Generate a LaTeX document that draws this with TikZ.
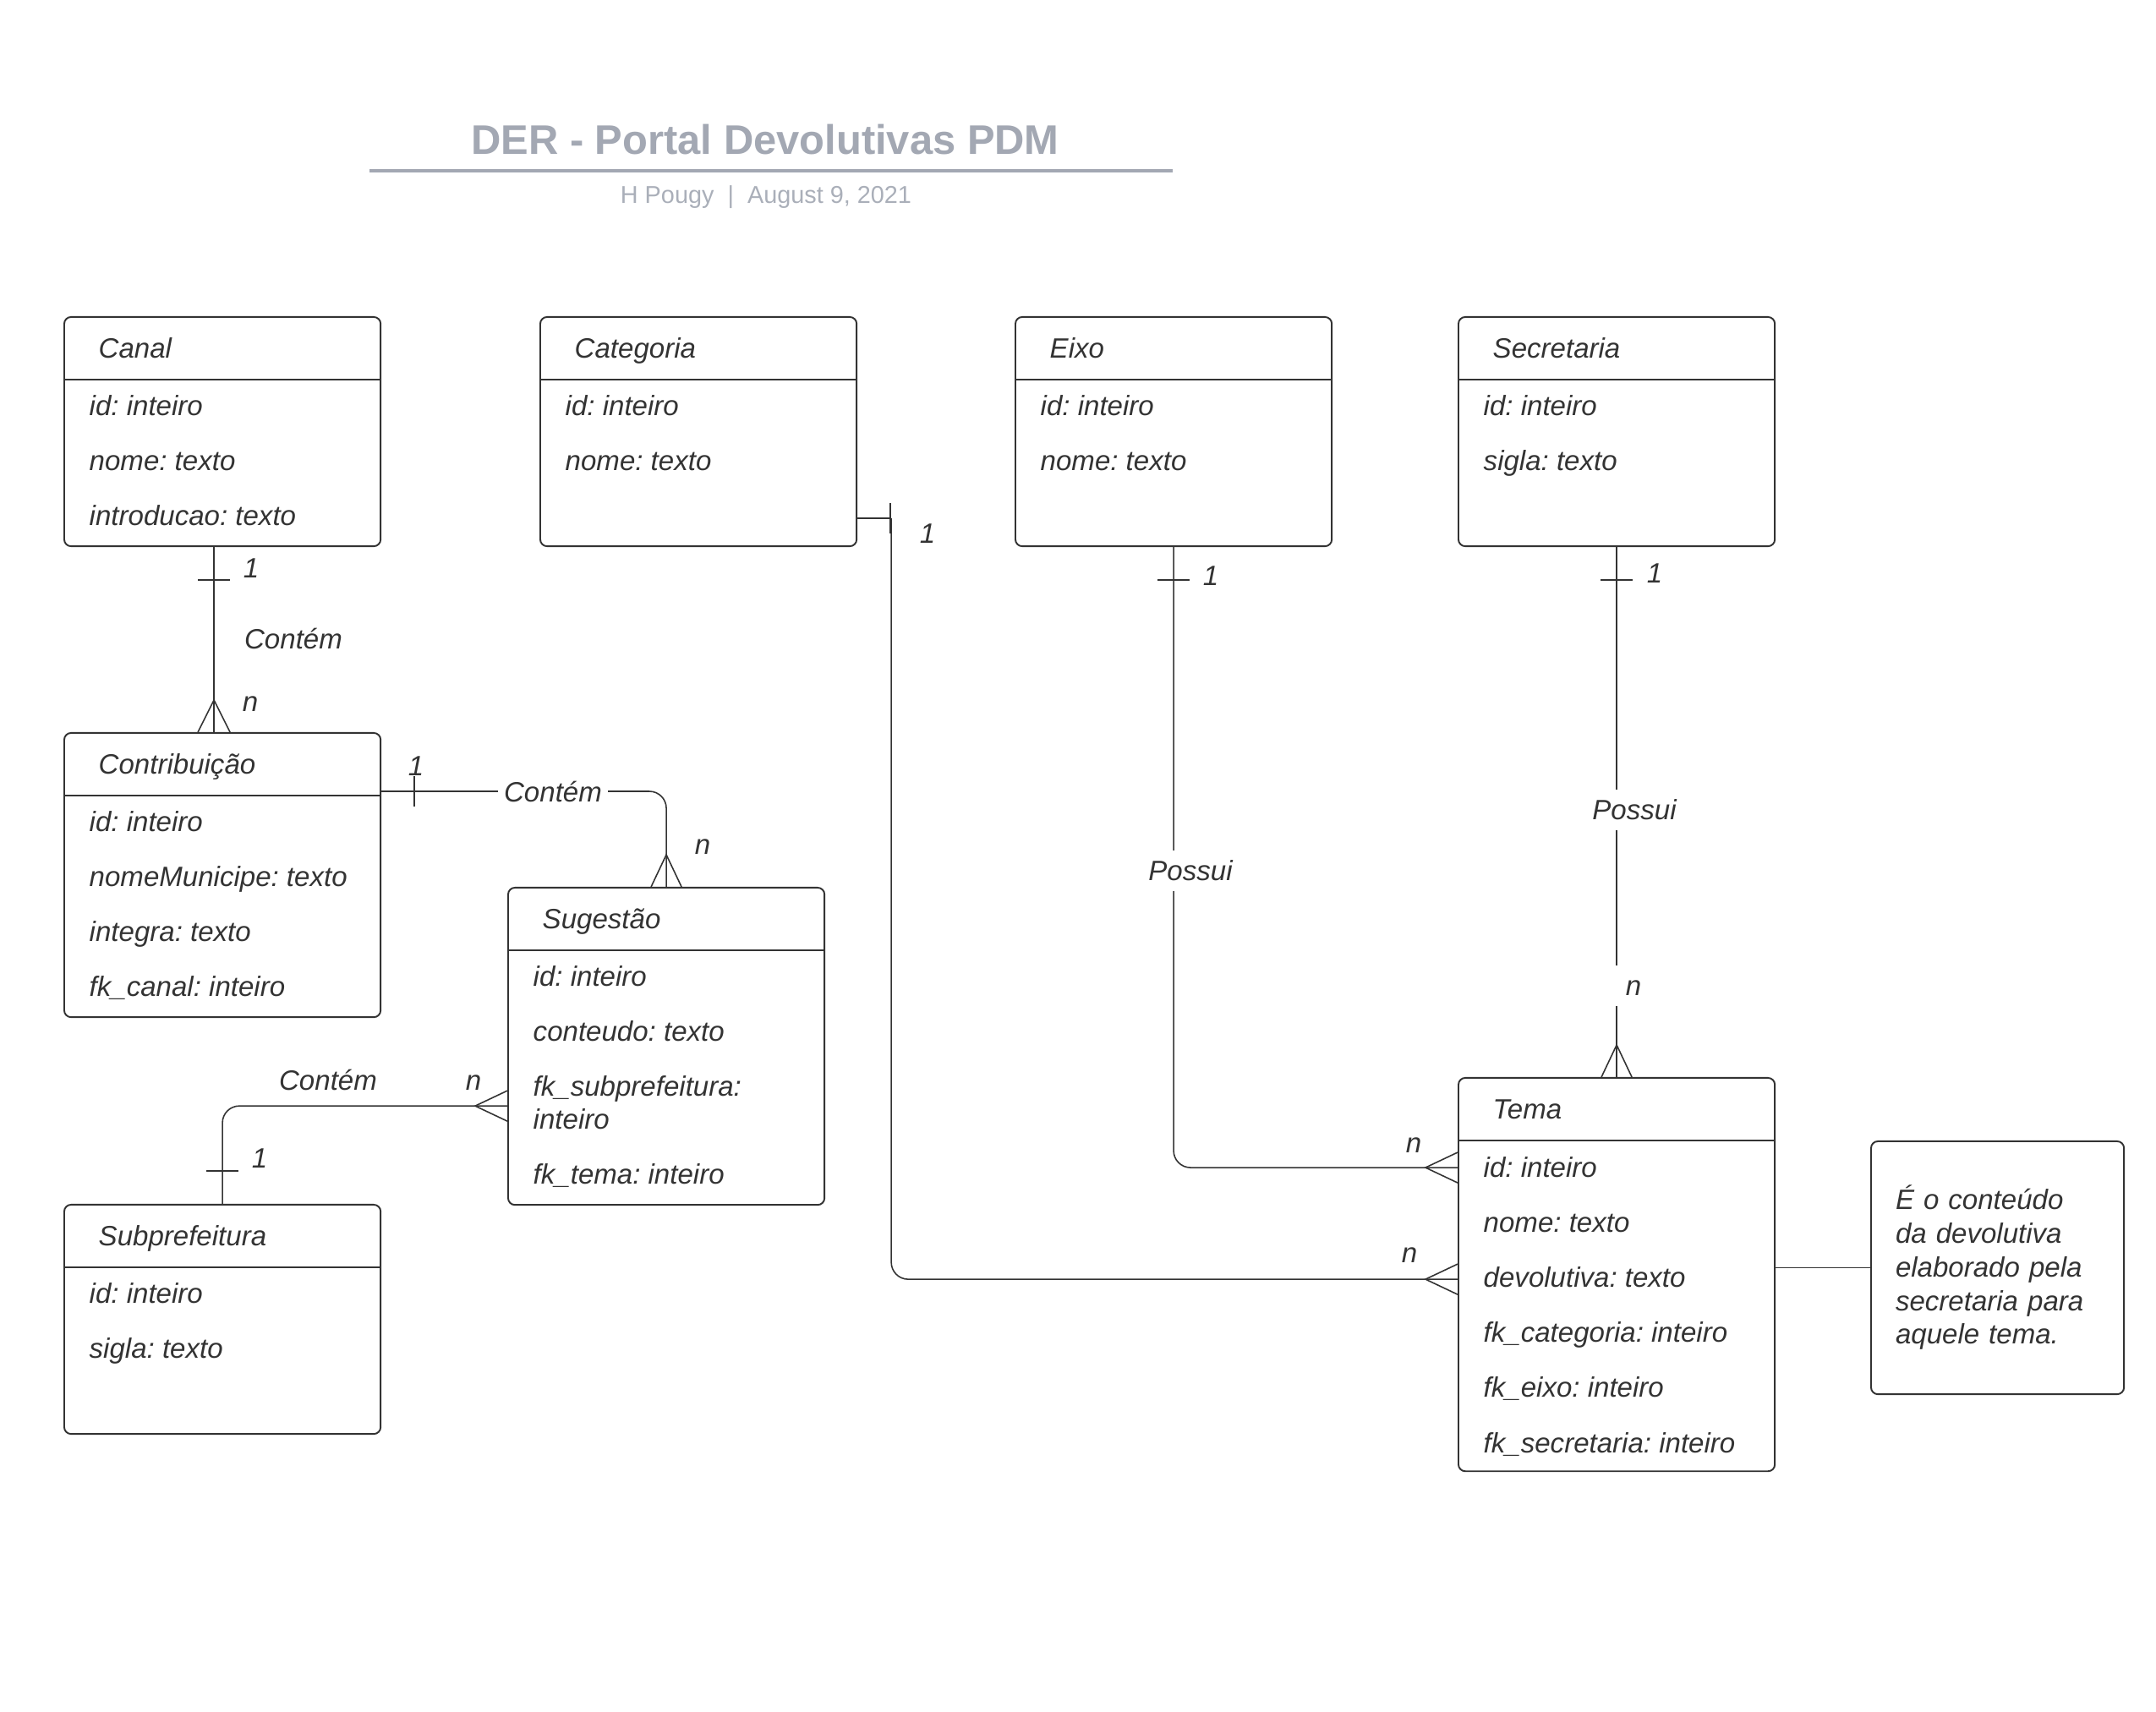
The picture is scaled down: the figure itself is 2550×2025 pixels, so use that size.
\documentclass[tikz,border=0pt]{standalone}
\usepackage{fontspec}
\setmainfont{Liberation Sans}
\usetikzlibrary{positioning,calc}
\definecolor{ink}{HTML}{333333}
\definecolor{titlegray}{HTML}{A3A8B3}
\definecolor{subgray}{HTML}{AAAFB9}
\newcommand{\erfont}{\fontsize{9.4}{11.3}\selectfont\itshape\frenchspacing}

\begin{document}
\begin{tikzpicture}[x=0.01cm, y=-0.01cm, every node/.style={text=ink},
    entity/.style={draw=ink, line width=0.55pt, rounded corners=2.3pt, minimum width=3.74cm, anchor=north west, inner sep=0pt},
    fieldtext/.style={anchor=west, inner sep=0pt, font=\erfont, text height=6.7pt, text depth=0pt},
    rel/.style={draw=ink, line width=0.45pt},
    card/.style={inner sep=0pt, font=\erfont, text height=6.7pt, text depth=0pt},
    gaplabel/.style={card, fill=white, minimum height=0.47cm, inner xsep=2pt}]
    \useasboundingbox (0,0) rectangle (2550,2025);

    % Title
    \node[font=\fontsize{13.9}{16}\selectfont\bfseries, text=titlegray] (title) at (905,165) {DER - Portal Devolutivas PDM};
    \draw[titlegray, line width=1.1pt] (437,202) -- (1387,202);
    \node[font=\fontsize{8.2}{10}\selectfont, text=subgray, text height=5.9pt, text depth=0pt, inner sep=0pt] (author) at (906,230) {H Pougy~~|~~August 9, 2021};

    % Entities
    \foreach \name/\x/\y/\h/\title in {canal/75/374/2.71/Canal, categoria/638/374/2.71/Categoria,
        eixo/1200/374/2.71/Eixo, secretaria/1724/374/2.71/Secretaria,
        contribuicao/75/866/3.36/Contribuição, sugestao/600/1049/3.75/Sugestão,
        subprefeitura/75/1424/2.71/Subprefeitura, tema/1724/1274/4.65/Tema}{
        \node[entity, minimum height=\h cm] (\name) at (\x,\y) {};
        \draw[draw=ink, line width=0.55pt] ([yshift=-0.75cm]\name.north west) -- ([yshift=-0.75cm]\name.north east);
        \node[fieldtext] (\name-title) at ([xshift=0.41cm, yshift=-0.375cm]\name.north west) {\title};
    }

    % Fields
    \foreach \dy/\txt [count=\i] in {1.06/id: inteiro, 1.71/nome: texto, 2.36/introducao: texto}
        \node[fieldtext] (canal-f\i) at ([xshift=0.30cm, yshift=-\dy cm]canal.north west) {\txt};
    \foreach \dy/\txt [count=\i] in {1.06/id: inteiro, 1.71/nome: texto}
        \node[fieldtext] (categoria-f\i) at ([xshift=0.30cm, yshift=-\dy cm]categoria.north west) {\txt};
    \foreach \dy/\txt [count=\i] in {1.06/id: inteiro, 1.71/nome: texto}
        \node[fieldtext] (eixo-f\i) at ([xshift=0.30cm, yshift=-\dy cm]eixo.north west) {\txt};
    \foreach \dy/\txt [count=\i] in {1.06/id: inteiro, 1.71/sigla: texto}
        \node[fieldtext] (secretaria-f\i) at ([xshift=0.30cm, yshift=-\dy cm]secretaria.north west) {\txt};
    \foreach \dy/\txt [count=\i] in {1.06/id: inteiro, 1.71/nomeMunicipe: texto, 2.36/integra: texto, 3.01/fk\_canal: inteiro}
        \node[fieldtext] (contribuicao-f\i) at ([xshift=0.30cm, yshift=-\dy cm]contribuicao.north west) {\txt};
    \foreach \dy/\txt [count=\i] in {1.06/id: inteiro, 1.71/conteudo: texto, 2.36/fk\_subprefeitura:, 2.75/inteiro, 3.40/fk\_tema: inteiro}
        \node[fieldtext] (sugestao-f\i) at ([xshift=0.30cm, yshift=-\dy cm]sugestao.north west) {\txt};
    \foreach \dy/\txt [count=\i] in {1.06/id: inteiro, 1.71/sigla: texto}
        \node[fieldtext] (subprefeitura-f\i) at ([xshift=0.30cm, yshift=-\dy cm]subprefeitura.north west) {\txt};
    \foreach \dy/\txt [count=\i] in {1.07/id: inteiro, 1.72/nome: texto, 2.37/devolutiva: texto,
        3.02/fk\_categoria: inteiro, 3.67/fk\_eixo: inteiro, 4.32/fk\_secretaria: inteiro}
        \node[fieldtext] (tema-f\i) at ([xshift=0.30cm, yshift=-\dy cm]tema.north west) {\txt};

    % Note on devolutiva
    \node[draw=ink, line width=0.55pt, rounded corners=2.3pt, anchor=north west, minimum width=2.99cm, minimum height=2.99cm,
        text width=2.41cm, inner xsep=0.29cm, align=left, font=\erfont] (nota) at (2212,1349)
        {É o conteúdo\\da devolutiva\\elaborado pela\\secretaria para\\aquele tema.};
    \draw[rel] (nota.west) -- (nota.west -| tema.east);

    % Canal 1 -- n Contribuicao
    \coordinate (canal-c) at ([xshift=-0.10cm]canal.south);
    \coordinate (contribuicao-c) at ([xshift=-0.10cm]contribuicao.north);
    \draw[rel] (canal-c) -- (contribuicao-c);
    \draw[rel] ($(canal-c)+(-19,39)$) -- ++(38,0);
    \draw[rel] ($(contribuicao-c)+(-19,0)$) -- ($(contribuicao-c)+(0,-38)$) -- ($(contribuicao-c)+(19,0)$);
    \node[card] (canal-one) at (297,672) {1};
    \node[card] (canal-rel) at (347,756) {Contém};
    \node[card] (contribuicao-n) at (296,830) {n};

    % Contribuicao 1 -- n Sugestao
    \coordinate (contribuicao-e) at ([yshift=-0.70cm]contribuicao.north east);
    \draw[rel, rounded corners=0.2cm] (contribuicao-e) -| (sugestao.north);
    \draw[rel] ($(contribuicao-e)+(39,-18)$) -- ++(0,36);
    \draw[rel] ($(sugestao.north)+(-18,0)$) -- ($(sugestao.north)+(0,-38)$) -- ($(sugestao.north)+(18,0)$);
    \node[gaplabel] (contribuicao-rel) at (654,937) {Contém};
    \node[card] (contribuicao-one) at (492,906) {1};
    \node[card] (sugestao-n) at (831,999) {n};

    % Subprefeitura 1 -- n Sugestao
    \coordinate (sugestao-w) at ([yshift=-2.59cm]sugestao.north west);
    \draw[rel, rounded corners=0.2cm] (sugestao-w) -| (subprefeitura.north);
    \draw[rel] ($(subprefeitura.north)+(-19,-39)$) -- ++(38,0);
    \draw[rel] ($(sugestao-w)+(0,-18)$) -- ($(sugestao-w)+(-38,0)$) -- ($(sugestao-w)+(0,18)$);
    \node[card] (subprefeitura-rel) at (388,1278) {Contém};
    \node[card] (subprefeitura-one) at (307,1370) {1};
    \node[card] (sugestao-n2) at (560,1278) {n};

    % Categoria 1 -- n Tema
    \coordinate (categoria-e) at ([yshift=-2.39cm]categoria.north east);
    \coordinate (categoria-k) at ($(categoria-e)+(40,0)$);
    \coordinate (tema-w2) at ([yshift=-2.39cm]tema.north west);
    \draw[rel] (categoria-e) -- (categoria-k);
    \draw[rel, rounded corners=0.2cm] (categoria-k) |- (tema-w2);
    \draw[rel] ($(categoria-e)+(39,-18)$) -- ++(0,36);
    \draw[rel] ($(tema-w2)+(0,-18)$) -- ($(tema-w2)+(-38,0)$) -- ($(tema-w2)+(0,18)$);
    \node[card] (categoria-one) at (1097,631) {1};
    \node[card] (tema-n2) at (1667,1482) {n};

    % Eixo 1 -- n Tema
    \coordinate (tema-w1) at ([yshift=-1.07cm]tema.north west);
    \draw[rel, rounded corners=0.2cm] (eixo.south) |- (tema-w1);
    \draw[rel] ($(eixo.south)+(-19,39)$) -- ++(38,0);
    \draw[rel] ($(tema-w1)+(0,-18)$) -- ($(tema-w1)+(-38,0)$) -- ($(tema-w1)+(0,18)$);
    \node[gaplabel] (eixo-rel) at (1408,1030) {Possui};
    \node[card] (eixo-one) at (1432,681) {1};
    \node[card] (tema-n1) at (1672,1352) {n};

    % Secretaria 1 -- n Tema
    \draw[rel] (secretaria.south) -- (tema.north);
    \draw[rel] ($(secretaria.south)+(-19,39)$) -- ++(38,0);
    \draw[rel] ($(tema.north)+(-18,0)$) -- ($(tema.north)+(0,-38)$) -- ($(tema.north)+(18,0)$);
    \node[gaplabel] (secretaria-rel) at (1933,958) {Possui};
    \node[gaplabel, minimum width=0.6cm] (tema-n3) at (1932,1166) {n};
    \node[card] (secretaria-one) at (1957,678) {1};
\end{tikzpicture}
\end{document}
